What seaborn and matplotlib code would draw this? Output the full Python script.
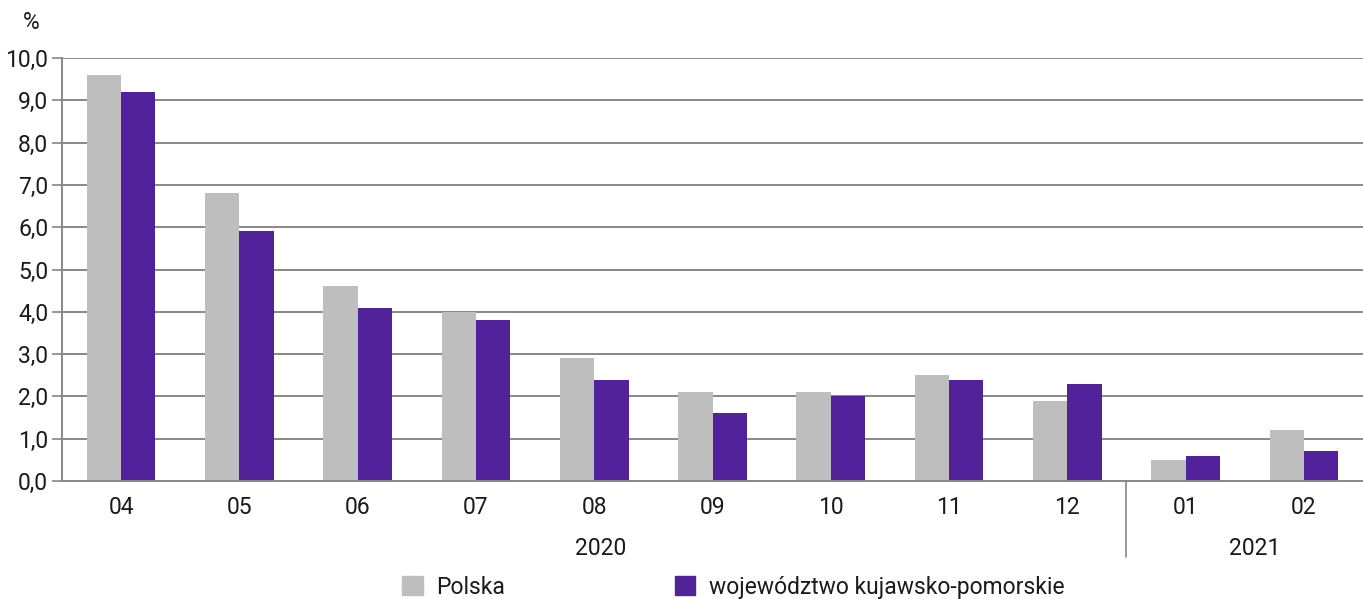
import seaborn as sns
import matplotlib.pyplot as plt
import matplotlib.transforms as mtransforms
import pandas as pd

months = ["04", "05", "06", "07", "08", "09", "10", "11", "12", "01", "02"]
polska = [9.6, 6.8, 4.6, 4.0, 2.9, 2.1, 2.1, 2.5, 1.9, 0.5, 1.2]
kujawsko = [9.2, 5.9, 4.1, 3.8, 2.4, 1.6, 2.0, 2.4, 2.3, 0.6, 0.7]
series_names = ["Polska", "województwo kujawsko-pomorskie"]
years = ["2020", "2021"]
y_ticks = [0, 1, 2, 3, 4, 5, 6, 7, 8, 9, 10]

df = pd.DataFrame({
    "month": months * 2,
    "value": polska + kujawsko,
    "series": [series_names[0]] * len(months) + [series_names[1]] * len(months),
})

sns.set_style("white")
plt.rcParams["font.family"] = ["Roboto", "DejaVu Sans"]
text_color = "#1a1a1a"
grid_color = "#888888"
fs = 16.5

fig = plt.figure(figsize=(13.63, 5.99), dpi=100)
ax = fig.add_axes([0.0455, 0.197, 0.9545, 0.706])

sns.barplot(data=df, x="month", y="value", hue="series", order=months,
            palette=["#bebebe", "#52229a"], width=0.58, saturation=1,
            linewidth=0, ax=ax, legend=False)

ax.set_ylim(0, 10)
ax.set_xlim(-0.5, len(months) - 0.5)
ax.set_yticks(y_ticks)
ax.set_yticklabels([f"{v:.1f}".replace(".", ",") for v in y_ticks],
                   fontsize=fs, color=text_color)
ax.yaxis.grid(True, color=grid_color, linewidth=1.4)
ax.set_axisbelow(True)
ax.set_xlabel("")
ax.set_ylabel("")

# category ticks on boundaries
ax.set_xticks(range(len(months)))
ax.set_xticklabels(months, fontsize=fs, color=text_color)
ax.tick_params(axis="x", length=0, pad=11)
ax.set_xticks([i + 0.5 for i in range(-1, len(months))], minor=True)
ax.tick_params(axis="x", which="minor", length=7, width=1.2, color=grid_color)
ax.tick_params(axis="y", length=7, width=1.2, color=grid_color, left=True, pad=3)

for side in ["top", "right"]:
    ax.spines[side].set_visible(False)
for side in ["left", "bottom"]:
    ax.spines[side].set_color(grid_color)
    ax.spines[side].set_linewidth(1.4)

# year labels and separator
trans = mtransforms.blended_transform_factory(ax.transData, ax.transAxes)
ax.text(4.05, -0.16, years[0], transform=trans, ha="center", va="center",
        fontsize=fs, color=text_color)
ax.text(9.58, -0.16, years[1], transform=trans, ha="center", va="center",
        fontsize=fs, color=text_color)
ax.plot([8.5, 8.5], [0, -0.18], transform=trans, color=grid_color,
        linewidth=1.2, clip_on=False)

fig.text(0.017, 0.963, "%", fontsize=fs, color=text_color, ha="left", va="center")

handles = [plt.Rectangle((0, 0), 1, 1, color=c) for c in ["#bebebe", "#52229a"]]
fig.legend(handles, series_names, loc="center", bbox_to_anchor=(0.538, 0.02),
           ncol=2, frameon=False, fontsize=fs, handlelength=0.9, handleheight=0.9,
           handletextpad=0.6, columnspacing=7.4, labelcolor=text_color)

plt.savefig("out.png", dpi=100)
